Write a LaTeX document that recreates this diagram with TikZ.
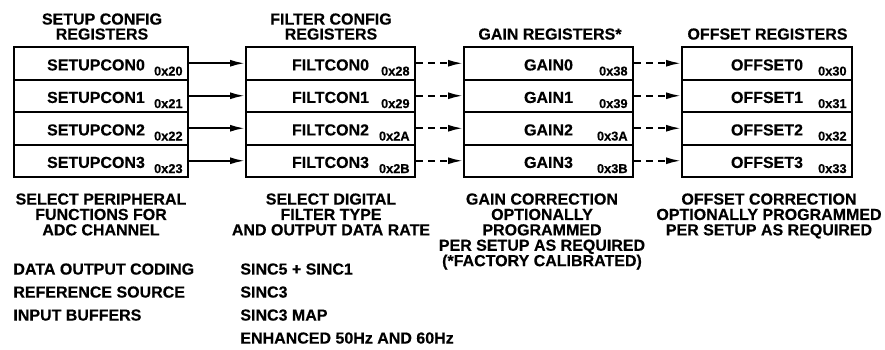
\documentclass[tikz,border=0pt]{standalone}
\usepackage{fontspec}
\setmainfont[BoldFeatures={FakeBold=0.4}]{Liberation Sans}
\usetikzlibrary{arrows.meta}

\tikzset{
  regbox/.style={draw, line width=1pt, minimum width=85pt, minimum height=16.25pt, inner sep=0pt,
    text height=7.2pt, text depth=0pt, font=\fontsize{8}{9}\selectfont\bfseries},
  addr/.style={anchor=base east, inner sep=0pt, xshift=-3pt, yshift=2.5pt,
    font=\fontsize{6.4}{7}\selectfont\bfseries},
  heading/.style={anchor=north, inner sep=0pt, align=center, font=\fontsize{8}{7.5}\selectfont\bfseries},
  note/.style={anchor=north, inner sep=0pt, align=center, font=\fontsize{8}{7.7}\selectfont\bfseries},
  opts/.style={anchor=north west, inner sep=0pt, align=left, font=\fontsize{8}{11.5}\selectfont\bfseries},
  link/.style={line width=1pt, -{Latex[length=7.5pt,width=3.5pt]}},
  optlink/.style={link, dash pattern=on 3.5pt off 2.5pt},
}

\begin{document}
\begin{tikzpicture}[x=0.5pt, y=-0.5pt]
  \useasboundingbox (0,0) rectangle (885,349);
  % headings
  \node[heading] (hsetup) at (102,13) {SETUP CONFIG\\REGISTERS};
  \node[heading] (hfilt) at (331,13) {FILTER CONFIG\\REGISTERS};
  \node[heading] (hgain) at (550,28) {GAIN REGISTERS*};
  \node[heading] (hoff) at (767.5,28) {OFFSET REGISTERS};
  % register rows
  \foreach \i/\a in {0/20,1/21,2/22,3/23} {
    \node[regbox, minimum width=87pt] (setup\i) at (101,{63.25+32.5*\i}) {SETUPCON\i\kern5pt};
    \node[addr] (asetup\i) at (setup\i.south east) {0x\a};
  }
  \foreach \i/\a in {0/28,1/29,2/2A,3/2B} {
    \node[regbox, minimum width=84.5pt] (filt\i) at (330.5,{63.25+32.5*\i}) {FILTCON\i};
    \node[addr] (afilt\i) at (filt\i.south east) {0x\a};
    \draw[link] (setup\i) -- (filt\i);
  }
  \foreach \i/\a in {0/38,1/39,2/3A,3/3B} {
    \node[regbox, minimum width=84.5pt] (gain\i) at (548.5,{63.25+32.5*\i}) {GAIN\i};
    \node[addr] (again\i) at (gain\i.south east) {0x\a};
    \draw[optlink] (filt\i) -- (gain\i);
  }
  \foreach \i/\a in {0/30,1/31,2/32,3/33} {
    \node[regbox] (off\i) at (767,{63.25+32.5*\i}) {OFFSET\i};
    \node[addr] (aoff\i) at (off\i.south east) {0x\a};
    \draw[optlink] (gain\i) -- (off\i);
  }
  % notes below
  \node[note] (nsetup) at (101,193) {SELECT PERIPHERAL\\FUNCTIONS FOR\\ADC CHANNEL};
  \node[note] (nfilt) at (331,193) {SELECT DIGITAL\\FILTER TYPE\\AND OUTPUT DATA RATE};
  \node[note] (ngain) at (542,193) {GAIN CORRECTION\\OPTIONALLY\\PROGRAMMED\\PER SETUP AS REQUIRED\\(*FACTORY CALIBRATED)};
  \node[note] (noff) at (769,193) {OFFSET CORRECTION\\OPTIONALLY PROGRAMMED\\PER SETUP AS REQUIRED};
  \node[opts] (lsetup) at (13,263) {DATA OUTPUT CODING\\REFERENCE SOURCE\\INPUT BUFFERS};
  \node[opts] (lfilt) at (240,263) {SINC5 + SINC1\\SINC3\\SINC3 MAP\\ENHANCED 50Hz AND 60Hz};
\end{tikzpicture}
\end{document}
